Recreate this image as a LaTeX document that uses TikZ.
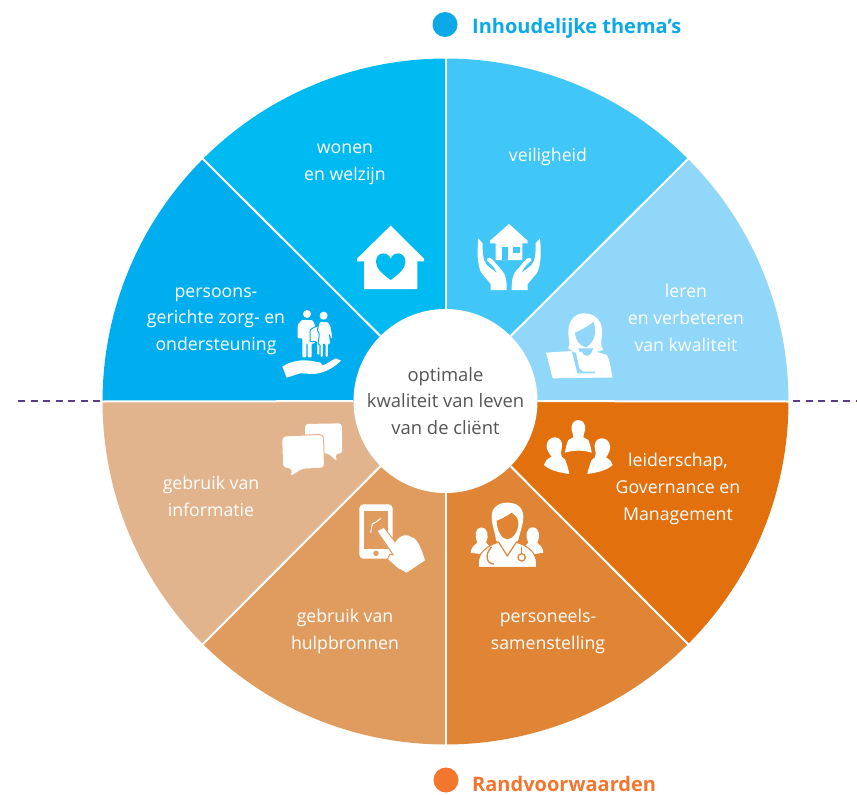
\documentclass[tikz,border=0pt]{standalone}
\usepackage{fontspec}
\setmainfont{Open Sans}
\definecolor{cWonen}{HTML}{00BAF2}
\definecolor{cPers}{HTML}{00AEEF}
\definecolor{cVeil}{HTML}{40C6F7}
\definecolor{cLeren}{HTML}{90D7F9}
\definecolor{cLeid}{HTML}{E1700D}
\definecolor{cSam}{HTML}{E08536}
\definecolor{cHulp}{HTML}{E09C5E}
\definecolor{cInfo}{HTML}{E2B48D}
\definecolor{cDash}{HTML}{5A3E85}
\definecolor{cLegB}{HTML}{0CA8E8}
\definecolor{cLegO}{HTML}{F2762E}
\definecolor{cTxt}{HTML}{555555}
\tikzset{
  lab/.style={align=center,text=white,inner sep=0pt,font=\fontsize{17.7}{26.7}\selectfont},
  hublab/.style={circle,fill=white,minimum size=184pt,inner sep=0pt,align=center,text=cTxt,font=\fontsize{18.4}{26.7}\selectfont},
  spoke/.style={draw=white,line width=2pt},
  legend/.style={anchor=base west,inner sep=0pt,font=\fontsize{20}{24}\selectfont\bfseries},
  dashline/.style={draw=cDash,line width=1.5pt,dash pattern=on 7pt off 5.5pt},
  icon/.style={fill=white},
}
\newcommand{\sector}[3]{\fill[#1] (445.5,401.5) -- plot[domain=#2:#3,samples=40] ({445.5+343*cos(\x)},{401.5+343*sin(\x)}) -- cycle;}
\begin{document}
\begin{tikzpicture}[x=1pt,y=-1pt]
\useasboundingbox (0,0) rectangle (857,795);
\fill[white] (0,0) rectangle (857,795);
% sectors
\sector{cLeid}{0}{45}
\sector{cSam}{45}{90}
\sector{cHulp}{90}{135}
\sector{cInfo}{135}{180}
\sector{cPers}{180}{225}
\sector{cWonen}{225}{270}
\sector{cVeil}{270}{315}
\sector{cLeren}{315}{360}
\node[hublab] (hub) at (445.5,401) {optimale\\kwaliteit van leven\\van de cliënt};
\foreach \i/\a in {0/0,1/45,2/90,3/135,4/180,5/225,6/270,7/315}{
  \coordinate (rim\i) at ({445.5+344*cos(\a)},{401.5+344*sin(\a)});
  \draw[spoke] (hub) -- (rim\i);
}
% dashed lines
\coordinate (dla) at (18,401);\coordinate (dlb) at (102,401);
\coordinate (dra) at (793,401);\coordinate (drb) at (857,401);
\draw[dashline] (dla) -- (dlb);
\draw[dashline] (dra) -- (drb);
% legend
\node[circle,fill=cLegB,minimum size=25pt,inner sep=0pt] (legA) at (445,24.5) {};
\node[legend,text=cLegB] (legAt) at (472,33) {Inhoudelijke thema’s};
\node[circle,fill=cLegO,minimum size=25pt,inner sep=0pt] (legB) at (446,780) {};
\node[legend,text=cLegO] (legBt) at (472,791) {Randvoorwaarden};
% labels
\node[lab] (t1) at (345,164.5) {wonen\\en welzijn};
\node[lab] (t2) at (548,157) {veiligheid};
\node[lab] (t3) at (686,318) {leren\\en verbeteren\\van kwaliteit};
\node[lab] (t4) at (216,321) {persoons-\\gerichte zorg- en\\ondersteuning};
\node[lab] (t5) at (678,489) {leiderschap,\\Governance en\\Management};
\node[lab] (t6) at (211,496.5) {gebruik van\\informatie};
\node[lab] (t7) at (345,631.5) {gebruik van\\hulpbronnen};
\node[lab] (t8) at (548,631.5) {personeels-\\samenstelling};
% icons, upper half (coordinates in 3x crop units)
\begin{scope}[shift={(260,210)},scale=1/3]
  % house with heart
  \fill[icon] (392,47) -- (492,146) -- (492,154) -- (472,154) -- (472,237) -- (312,237) -- (312,154) -- (291,154) -- (291,146) -- cycle;
  \fill[cWonen] (392,210) .. controls (365,190) and (348,175) .. (348,155) .. controls (348,125) and (385,122) .. (392,147) .. controls (399,122) and (436,125) .. (436,155) .. controls (436,175) and (419,190) .. (392,210) -- cycle;
  % house in hands
  \fill[icon] (747,42) -- (803,92) -- (803,100) -- (787,100) -- (787,150) -- (707,150) -- (707,100) -- (690,100) -- (690,92) -- cycle;
  \fill[cVeil] (725,110) rectangle (745,150);
  \fill[cVeil] (760,110) rectangle (780,130);
  \fill[icon] (655,85) -- (668,100) .. controls (668,125) and (668,150) .. (680,165) -- (712,190) -- (700,170) -- (680,150) .. controls (690,130) and (705,160) .. (725,180) .. controls (738,195) and (740,210) .. (740,240) -- (692,240) -- (692,222) -- (665,190) .. controls (650,165) and (652,120) .. (655,85) -- cycle;
  \fill[icon] (840,85) -- (827,100) .. controls (827,125) and (827,150) .. (815,165) -- (783,190) -- (795,170) -- (815,150) .. controls (805,130) and (790,160) .. (770,180) .. controls (757,195) and (755,210) .. (755,240) -- (803,240) -- (803,222) -- (830,190) .. controls (845,165) and (843,120) .. (840,85) -- cycle;
  % family on a hand
  \fill[icon] (141,312) circle[radius=12];
  \fill[icon] (191,317) circle[radius=12];
  \fill[icon,rounded corners=1pt] (125,330) -- (157,330) -- (165,345) -- (165,400) -- (155,400) -- (155,442) -- (143,442) -- (143,400) -- (139,400) -- (139,442) -- (127,442) -- (127,385) -- (123,385) -- (122,385) -- (113,385) -- (113,345) -- cycle;
  \draw[cPers,line width=1pt,fill=white,rounded corners=1pt] (162,352) -- (180,345) -- (187,352) -- (187,395) -- (180,395) -- (180,435) -- (170,435) -- (170,395) -- (160,395) -- (150,395) -- (150,360) -- cycle;
  \draw[cPers,line width=1pt,fill=white,rounded corners=1pt] (178,335) -- (204,335) -- (212,345) -- (219,385) -- (212,388) -- (208,372) -- (212,403) -- (205,403) -- (205,442) -- (195,442) -- (195,403) -- (190,403) -- (190,442) -- (180,442) -- (180,403) -- (174,403) -- (178,372) -- (172,360) -- cycle;
  \fill[icon] (67,470) .. controls (90,455) and (120,448) .. (150,452) -- (182,458) .. controls (190,466) and (185,472) .. (165,470) .. controls (190,472) and (205,455) .. (228,445) -- (243,452) .. controls (225,470) and (195,490) .. (160,492) -- (120,490) -- (80,503) -- cycle;
  % woman at laptop
  \fill[icon] (972,310) .. controls (1008,310) and (1030,335) .. (1026,375) .. controls (1024,395) and (1020,405) .. (1030,420) -- (1000,428) -- (945,428) -- (925,415) .. controls (932,400) and (925,390) .. (925,365) .. controls (925,335) and (942,310) .. (972,310) -- cycle;
  \fill[cLeren] (945,368) .. controls (958,362) and (985,350) .. (1000,335) .. controls (1012,365) and (1005,395) .. (978,412) .. controls (958,407) and (945,388) .. (945,368) -- cycle;
  \fill[cLeren] (955,415) -- (1000,415) -- (990,435) -- (975,442) -- (962,435) -- cycle;
  \fill[icon] (948,428) -- (965,425) .. controls (975,445) and (990,440) .. (1000,422) -- (1040,435) .. controls (1048,445) and (1052,470) .. (1057,503) -- (1010,503) -- (1005,485) -- (970,485) -- (958,475) -- cycle;
  \fill[icon] (858,428) -- (935,423) -- (952,490) -- (1010,490) -- (1010,503) -- (878,505) -- cycle;
\end{scope}
% icons, lower half
\begin{scope}[shift={(260,400)},scale=1/3]
  % speech bubbles
  \fill[icon,rounded corners=3pt] (135,72) -- (245,70) -- (247,160) -- (225,162) -- (232,185) -- (205,160) -- (180,160) -- (135,160) -- cycle;
  \draw[cInfo,line width=1pt,fill=white,rounded corners=4pt] (65,108) -- (190,103) -- (194,205) -- (128,207) -- (88,233) -- (97,207) -- (68,205) -- cycle;
  % phone
  \fill[icon,rounded corners=4pt] (298,313) rectangle (398,476);
  \fill[cHulp] (312,332) rectangle (385,448);
  \fill[cHulp] (348,460) circle[radius=8];
  \draw[white,line width=1pt] (332,398) -- (337,372) -- (345,368) -- (363,355);
  \draw[cHulp,line width=1pt,fill=white,line join=round] (350,392) -- (372,382) -- (405,425) .. controls (420,400) and (445,400) .. (455,410) .. controls (470,410) and (485,440) .. (497,482) -- (440,520) -- (412,505) -- (382,478) -- (390,462) -- (400,465) -- cycle;
  % doctors
  \fill[icon] (632,458) .. controls (632,442) and (645,435) .. (652,428) .. controls (643,410) and (645,382) .. (664,382) .. controls (683,382) and (688,410) .. (678,428) -- (695,445) -- (660,462) -- cycle;
  \fill[icon] (850,458) .. controls (850,442) and (838,435) .. (832,428) .. controls (842,410) and (838,382) .. (818,382) .. controls (798,382) and (795,410) .. (805,428) -- (790,445) -- (825,462) -- cycle;
  \draw[cSam,line width=1pt,fill=white] (655,502) .. controls (652,465) and (668,448) .. (700,432) -- (720,425) -- (765,425) -- (790,435) .. controls (815,448) and (832,465) .. (830,502) -- cycle;
  \fill[icon] (742,308) .. controls (770,308) and (790,322) .. (790,350) .. controls (790,375) and (780,395) .. (775,420) -- (765,432) -- (720,432) -- (708,420) .. controls (705,395) and (695,375) .. (695,350) .. controls (695,322) and (715,308) .. (742,308) -- cycle;
  \fill[cSam] (710,362) .. controls (722,358) and (742,348) .. (755,338) .. controls (768,348) and (775,355) .. (775,370) .. controls (775,395) and (757,418) .. (742,418) .. controls (727,418) and (710,392) .. (710,362) -- cycle;
  \draw[cSam,line width=1.2pt] (715,425) -- (742,468) -- (770,425);
  \draw[cSam,line width=1.3pt] (695,440) .. controls (672,465) and (680,492) .. (702,492);
  \draw[cSam,line width=1.3pt] (785,440) -- (785,460);
  \draw[cSam,line width=1.3pt] (785,472) circle[radius=11];
  % three people
  \fill[icon] (955,60) .. controls (970,60) and (978,75) .. (975,90) .. controls (973,100) and (970,105) .. (970,112) -- (985,120) .. controls (990,130) and (993,145) .. (995,158) .. controls (970,150) and (940,150) .. (915,158) .. controls (917,145) and (920,130) .. (925,120) -- (940,112) .. controls (940,105) and (937,100) .. (935,90) .. controls (932,75) and (940,60) .. (955,60) -- cycle;
  \fill[icon] (885,112) .. controls (900,112) and (908,125) .. (906,140) .. controls (904,155) and (900,160) .. (905,170) -- (915,178) .. controls (920,190) and (925,205) .. (928,222) .. controls (900,218) and (870,212) .. (852,195) .. controls (855,185) and (858,178) .. (875,170) .. controls (866,160) and (858,145) .. (860,135) .. controls (862,120) and (872,112) .. (885,112) -- cycle;
  \fill[icon] (1025,115) .. controls (1010,115) and (1002,128) .. (1004,143) .. controls (1006,158) and (1010,163) .. (1005,172) -- (995,180) .. controls (990,192) and (985,207) .. (982,222) .. controls (1010,218) and (1040,212) .. (1058,195) .. controls (1055,185) and (1052,180) .. (1038,172) .. controls (1046,162) and (1052,148) .. (1050,138) .. controls (1048,123) and (1038,115) .. (1025,115) -- cycle;
\end{scope}
\end{tikzpicture}
\end{document}
